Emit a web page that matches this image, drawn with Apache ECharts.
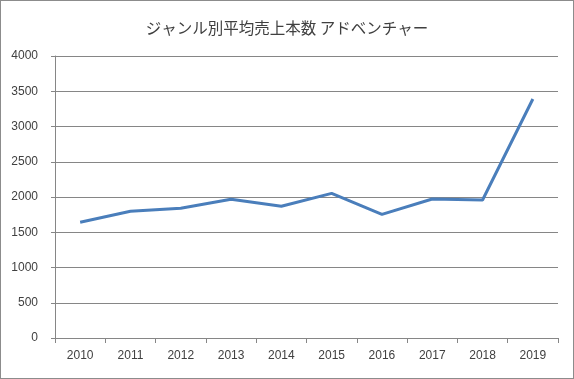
<!DOCTYPE html>
<html><head><meta charset="utf-8">
<script src="https://cdn.jsdelivr.net/npm/echarts@6/dist/echarts.min.js"></script>
<style>html,body{margin:0;padding:0;background:#fff}#c{width:574px;height:379px;box-sizing:border-box;border:1px solid #8c8c8c}</style>
</head><body><div id="c"></div>
<script>
const title = 'ジャンル別平均売上本数 アドベンチャー';
const years = ['2010','2011','2012','2013','2014','2015','2016','2017','2018','2019'];
const sales = [1641, 1797, 1840, 1967, 1868, 2052, 1754, 1972, 1957, 3390];
const chart = echarts.init(document.getElementById('c'), null, {renderer:'canvas'});
chart.setOption({
  animation:false,
  title:{text:title,left:'center',top:14,textStyle:{fontFamily:'Noto Sans CJK JP',fontSize:15.5,fontWeight:'normal',color:'#404040'}},
  grid:{left:54,right:15,top:55,bottom:40},
  xAxis:{type:'category',data:years,boundaryGap:true,
    axisLine:{lineStyle:{color:'#868686'}},
    axisTick:{show:true,length:5,lineStyle:{color:'#868686'}},
    axisLabel:{color:'#404040',fontFamily:'Liberation Sans',fontSize:12,margin:12}},
  yAxis:{type:'value',min:0,max:4000,interval:500,
    axisLine:{show:true,lineStyle:{color:'#868686'}},
    axisTick:{show:true,length:4,lineStyle:{color:'#868686'}},
    splitLine:{lineStyle:{color:'#868686'}},
    axisLabel:{color:'#404040',fontFamily:'Liberation Sans',fontSize:12,margin:17,formatter:v=>String(v)}},
  series:[{type:'line',data:sales,symbol:'none',lineStyle:{color:'#4a7ebb',width:3}}]
});
</script></body></html>
